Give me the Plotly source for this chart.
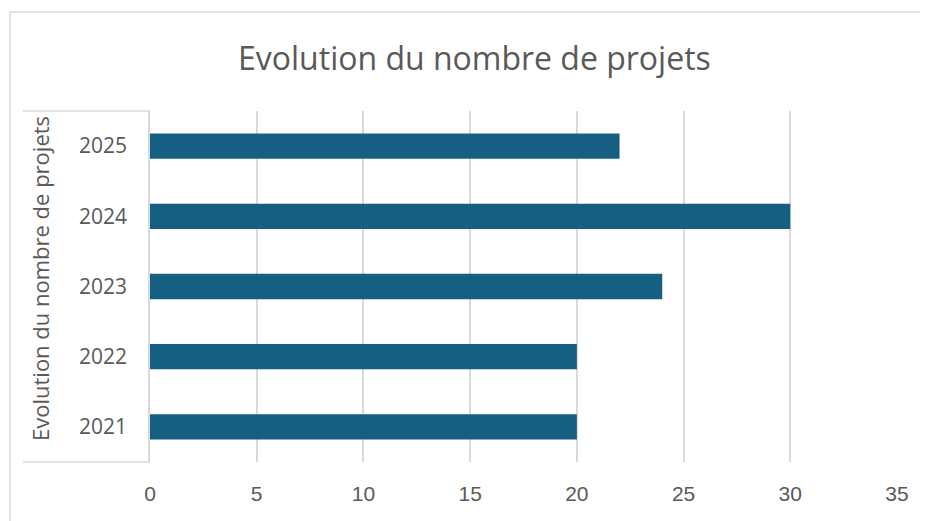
import plotly.graph_objects as go

years = ["2021", "2022", "2023", "2024", "2025"]
projects = [20, 20, 24, 30, 22]
x_ticks = [0, 5, 10, 15, 20, 25, 30, 35]

title_text = "Evolution du nombre de projets"
axis_title = "Evolution du nombre de projets"

OFF = 8  # default page body margin
W, H = 928 - OFF, 521 - OFF
L, R, T, B = 150, 897, 111, 462  # plot area in page pixels

def px(x):
    return (x - L) / (R - L)

def py(y):
    return (B - y) / (B - T)

GRID = "#D9D9D9"
TXT = "#595959"

fig = go.Figure(go.Bar(
    y=years, x=projects, orientation="h",
    marker=dict(color="#156082", line=dict(width=0)),
    width=0.36,
))

fig.update_layout(
    width=W, height=H,
    margin=dict(l=L - OFF, r=W - (R - OFF), t=T - OFF, b=H - (B - OFF), pad=0),
    paper_bgcolor="white", plot_bgcolor="white",
    showlegend=False,
    xaxis=dict(
        range=[0, 35], tickvals=x_ticks, ticktext=[str(v) for v in x_ticks],
        showgrid=True, gridcolor=GRID, gridwidth=1.6,
        zeroline=False, showline=False,
        tickfont=dict(family="Liberation Sans, Arial", size=21, color=TXT),
        ticklabelstandoff=17,
    ),
    yaxis=dict(
        showgrid=False, zeroline=False,
        showline=True, linecolor=GRID, linewidth=1.6,
        tickfont=dict(family="Open Sans", size=21, color=TXT),
        ticklabelstandoff=17,
    ),
    shapes=[
        # chart border
        dict(type="rect", xref="paper", yref="paper",
             x0=px(10), x1=px(940), y0=py(540), y1=py(12),
             line=dict(color=GRID, width=1.4), fillcolor="rgba(0,0,0,0)", layer="below"),
        # category box top and bottom
        dict(type="line", xref="paper", yref="paper",
             x0=px(23), x1=px(150), y0=1, y1=1, line=dict(color=GRID, width=1.6)),
        dict(type="line", xref="paper", yref="paper",
             x0=px(23), x1=px(150), y0=0, y1=0, line=dict(color=GRID, width=1.6)),
    ],
    annotations=[
        dict(text=title_text, xref="paper", yref="paper", x=px(474), y=py(57),
             xanchor="center", yanchor="middle", showarrow=False,
             font=dict(family="Open Sans", size=32, color=TXT)),
        dict(text=axis_title, xref="paper", yref="paper", x=px(40), y=py(279),
             xanchor="center", yanchor="middle", showarrow=False, textangle=-90,
             font=dict(family="Open Sans", size=22, color=TXT)),
    ],
)

fig.write_html("out.html")
